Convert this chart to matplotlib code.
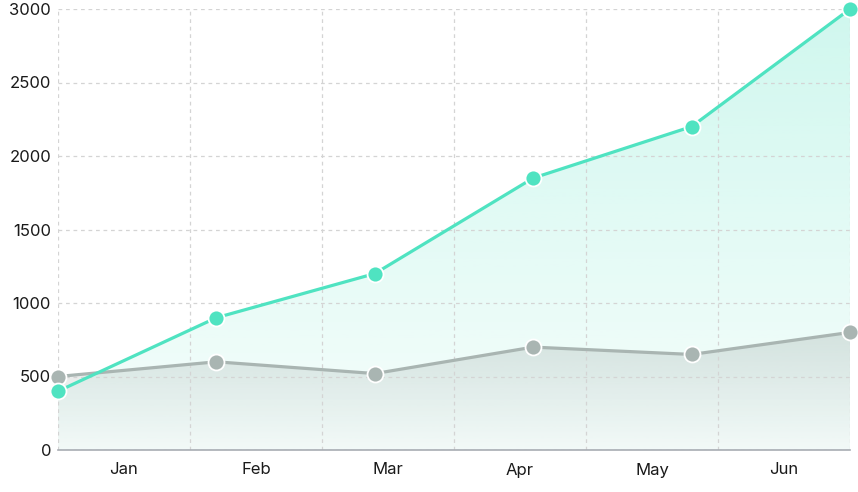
import numpy as np
import matplotlib
matplotlib.use("Agg")
import matplotlib.pyplot as plt
from matplotlib.colors import to_rgb

# DATOS
meses = ["Jan", "Feb", "Mar", "Apr", "May", "Jun"]
serie_verde = [400, 900, 1200, 1850, 2200, 3000]
serie_gris = [500, 600, 520, 700, 650, 800]
ticks_y = [0, 500, 1000, 1500, 2000, 2500, 3000]

color_verde = "#4fe3c1"
color_gris = "#a9b5b2"

plt.rcParams["font.family"] = ["Inter", "DejaVu Sans"]

fig = plt.figure(figsize=(8.58, 4.92), dpi=100)
ax = fig.add_axes([58 / 858, 42 / 492, 792 / 858, 441 / 492])

n = len(meses)
x_puntos = np.linspace(0, 1, n)
x_bandas = (np.arange(n) + 0.5) / n


def relleno_degradado(ax, x, y, color, a_top, a_bot):
    # degradado vertical recortado al area bajo la curva
    rgb = to_rgb(color)
    ymax = max(y)
    h = 256
    img = np.zeros((h, 1, 4))
    img[:, 0, :3] = rgb
    img[:, 0, 3] = np.linspace(a_top, a_bot, h)
    poly = ax.fill_between(x, y, 0, color="none", lw=0)
    im = ax.imshow(img, aspect="auto", extent=[0, 1, 0, ymax],
                   origin="upper", zorder=1)
    path = poly.get_paths()[0]
    im.set_clip_path(path, transform=ax.transData)


relleno_degradado(ax, x_puntos, serie_verde, color_verde, 0.27, 0.05)
relleno_degradado(ax, x_puntos, serie_gris, color_gris, 0.36, 0.05)

ax.plot(x_puntos, serie_gris, color=color_gris, lw=2.3, zorder=4,
        marker="o", ms=11.5, mfc=color_gris, mec="white", mew=1.3,
        clip_on=False)
ax.plot(x_puntos, serie_verde, color=color_verde, lw=2.3, zorder=5,
        marker="o", ms=11.5, mfc=color_verde, mec="white", mew=1.3,
        clip_on=False)

# GRILLA
for yv in ticks_y:
    ax.axhline(yv, color="#d4d4d4", lw=0.9, ls=(0, (3, 3)), zorder=2)
for xv in np.arange(n + 1) / n:
    ax.axvline(xv, color="#d4d4d4", lw=0.9, ls=(0, (3, 3)), zorder=2)

ax.set_xlim(0, 1)
ax.set_ylim(0, 3000)
ax.set_yticks(ticks_y)
ax.set_xticks(x_bandas)
ax.set_xticklabels(meses)

for lado in ["top", "right", "left"]:
    ax.spines[lado].set_visible(False)
ax.spines["bottom"].set_color("#a8adb3")
ax.spines["bottom"].set_linewidth(1.2)
ax.spines["bottom"].set_zorder(3)

ax.tick_params(axis="both", length=0, labelsize=12, colors="#1a1a1a")
ax.tick_params(axis="x", pad=9)
ax.tick_params(axis="y", pad=5)

fig.savefig("out.png", dpi=100)
